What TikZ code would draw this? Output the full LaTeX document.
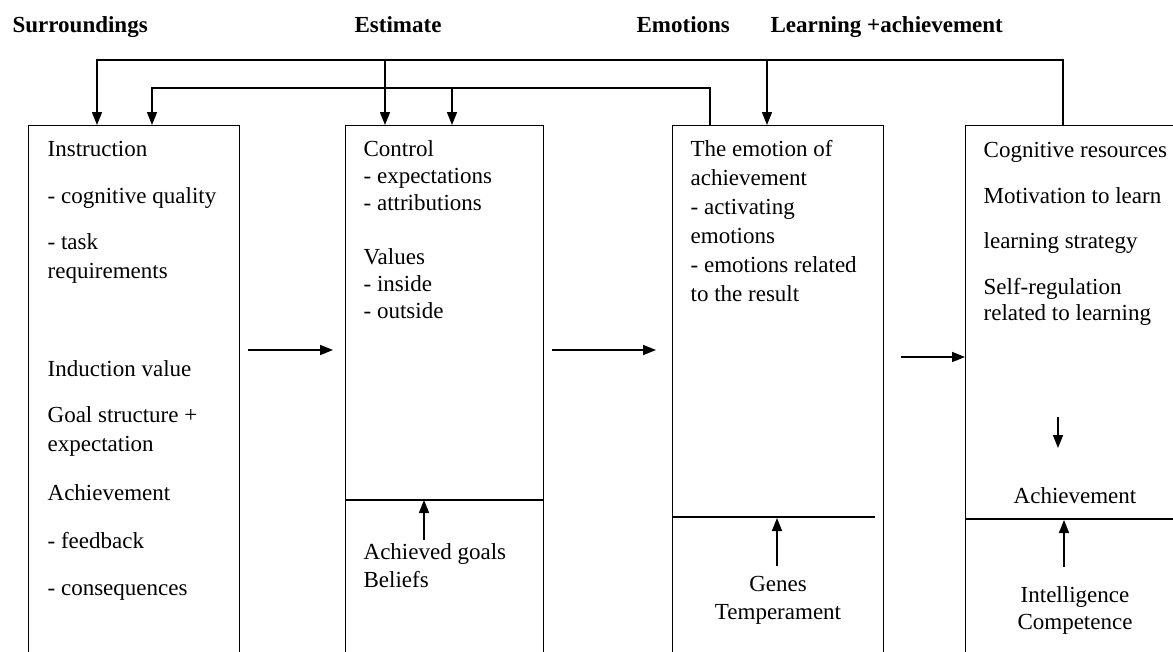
\documentclass[tikz,border=0pt]{standalone}
\usepackage{fontspec}
\setmainfont{Liberation Serif}
\usetikzlibrary{positioning,arrows.meta}

\begin{document}
\begin{tikzpicture}[x=1pt, y=-1pt, line width=1.3pt,
  box/.style={draw, rectangle, inner sep=0pt, anchor=north west, minimum height=600pt},
  txt/.style={anchor=base west, inner sep=0pt, align=left, font=\fontsize{23}{29}\selectfont},
  ctxt/.style={anchor=base, inner sep=0pt, align=center, font=\fontsize{23}{28}\selectfont},
  head/.style={anchor=base west, inner sep=0pt, font=\fontsize{23}{28}\selectfont\bfseries},
  arr/.style={-{Triangle[length=13pt,width=10pt]}, line width=1.6pt}]
\useasboundingbox (0,0) rectangle (1173,651);
\clip (0,0) rectangle (1173,651);

% Headings
\node[head] (surr) at (12,32) {Surroundings};
\node[head] (est) at (354,32) {Estimate};
\node[head] (emot) at (636,32) {Emotions};
\node[head] (learn) at (770,32) {Learning +achievement};

% Boxes (open at the bottom of the page)
\node[box, minimum width=211pt] (instr) at (28,125) {};
\node[box, minimum width=198pt] (ctrl) at (345,125) {};
\node[box, minimum width=211pt] (emo) at (672,125) {};
\node[box, minimum width=260pt] (res) at (965,125) {};

% Dividers
\draw (ctrl.west |- 0,500) -- (ctrl.east |- 0,500);
\draw (emo.west |- 0,517) -- ([xshift=-9pt]emo.east |- 0,517);
\draw (res.west |- 0,519) -- (res.east |- 0,519);

% Box texts (multi-line nodes sit on their last line)
\node[txt] (instr-a) at (47,156) {Instruction};
\node[txt] (instr-b) at (47,203) {- cognitive quality};
\node[txt] (instr-c) at (47,278) {- task\\requirements};
\node[txt] (instr-d) at (47,376) {Induction value};
\node[txt] (instr-e) at (47,451) {Goal structure +\\expectation};
\node[txt] (instr-f) at (47,500) {Achievement};
\node[txt] (instr-g) at (47,548) {- feedback};
\node[txt] (instr-h) at (47,595) {- consequences};

\node[txt, font=\fontsize{23}{27}\selectfont] (ctrl-a) at (363,210) {Control\\- expectations\\- attributions};
\node[txt, font=\fontsize{23}{27}\selectfont] (ctrl-b) at (363,318) {Values\\- inside\\- outside};
\node[txt, font=\fontsize{23}{28}\selectfont] (goals) at (363,587) {Achieved goals\\Beliefs};

\node[txt] (emo-a) at (690,301) {The emotion of\\achievement\\- activating\\emotions\\- emotions related\\to the result};
\node[ctxt] (genes) at (778,619) {Genes\\Temperament};

\node[txt] (res-a) at (983,157) {Cognitive resources};
\node[txt] (res-b) at (983,203) {Motivation to learn};
\node[txt] (res-c) at (983,248) {learning strategy};
\node[txt, font=\fontsize{23}{26}\selectfont] (res-d) at (983,320) {Self-regulation\\related to learning};
\node[ctxt] (ach) at (1075,503) {Achievement};
\node[ctxt, font=\fontsize{23}{27}\selectfont] (intel) at (1075,629) {Intelligence\\Competence};

% Arrow ends on the box tops
\coordinate (i1) at (instr.north -| 97,0);
\coordinate (i2) at (instr.north -| 152,0);
\coordinate (c1) at (ctrl.north -| 385,0);
\coordinate (c2) at (ctrl.north -| 452,0);
\coordinate (e1) at (emo.north -| 767,0);
\coordinate (e2) at (emo.north -| 710,0);
\coordinate (r1) at (res.north -| 1063,0);

% Feedback lines
\draw[arr] (r1) -- (r1 |- 0,60) -- (i1 |- 0,60) -- (i1);
\draw[arr] (c1 |- 0,60) -- (c1);
\draw[arr] (e1 |- 0,60) -- (e1);
\draw[arr] (e2) -- (e2 |- 0,88) -- (i2 |- 0,88) -- (i2);
\draw[arr] (c2 |- 0,88) -- (c2);

% Flow between boxes
\draw[arr, shorten <=8pt, shorten >=12pt] (instr.east |- 0,350) -- (ctrl.west |- 0,350);
\draw[arr, shorten <=8pt, shorten >=16pt] (ctrl.east |- 0,350) -- (emo.west |- 0,350);
\draw[arr, shorten <=17pt] (emo.east |- 0,357) -- (res.west |- 0,357);

% Arrows inside boxes
\coordinate (rtop) at (1058,417);
\coordinate (rbot) at (1058,448);
\draw[arr] (rtop) -- (rbot);
\coordinate (cgoal) at (424,540);
\coordinate (cdiv) at (424,500);
\draw[arr] (cgoal) -- (cdiv);
\coordinate (egene) at (777,566);
\coordinate (ediv) at (777,518);
\draw[arr] (egene) -- (ediv);
\coordinate (rint) at (1064,567);
\coordinate (rdiv) at (1064,520);
\draw[arr] (rint) -- (rdiv);
\end{tikzpicture}
\end{document}
